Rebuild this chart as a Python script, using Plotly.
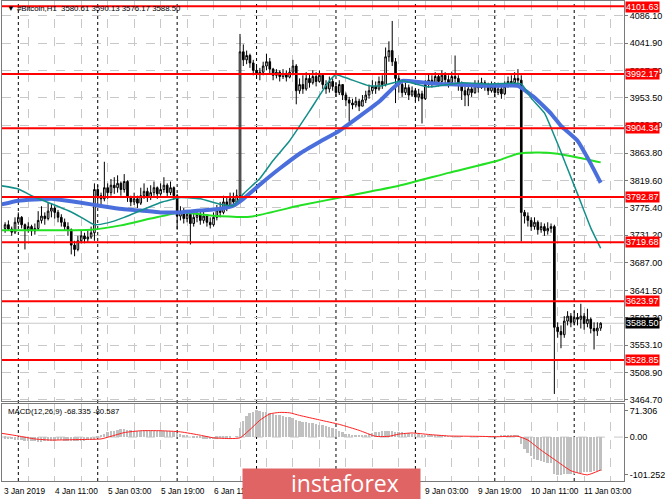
import plotly.graph_objects as go
import pandas as pd

# ---------------- data ----------------
first_open = 3742
close_vals = [
    3748, 3741, 3736, 3752, 3760,
    3748, 3740, 3745, 3738, 3742, 3755, 3762, 3758, 3770, 3775, 3768, 3760, 3752, 3745, 3740, 3715, 3708, 3722, 3730, 3725, 3728, 3735, 3805,
    3795, 3790, 3808, 3800, 3812, 3808, 3815, 3805, 3818, 3792, 3785, 3790, 3783, 3795, 3802, 3792, 3800, 3808, 3798, 3805, 3812, 3800, 3808, 3795,
    3762, 3770, 3758, 3765, 3750, 3760, 3765, 3755, 3762, 3752, 3748, 3760, 3772, 3768, 3785, 3778, 3790, 3785, 3795, 4028,
    4015, 4022, 4010, 3998, 3992, 3995, 4005, 4012, 4000, 3990, 3995, 3988, 3993, 3987, 3995, 4005, 3965, 3975, 3968, 3985, 3978, 3988, 3980, 3990, 3975, 3968, 3980, 3972,
    3962, 3975, 3958, 3950, 3945, 3942, 3948, 3940, 3950, 3958, 3965, 3972, 3968, 3980, 3975, 4020, 4030, 4012, 3985, 3975, 3962, 3970, 3958, 3965,
    3955, 3960, 3952, 3975, 3982, 3978, 3988, 3980, 3990, 3983, 3978, 3988, 3985, 3975, 3965, 3958, 3968, 3962, 3975, 3970, 3978, 3972, 3965, 3972,
    3962, 3968, 3960, 3972, 3980, 3978, 3985, 3982,
    3768, 3762, 3755, 3745, 3752, 3740, 3745, 3738, 3742, 3745, 3582, 3575, 3570, 3592, 3600, 3590, 3598, 3595, 3600, 3588, 3595, 3580, 3576, 3580.61, 3588.50,
]
high_vals = [
    3752, 3755, 3745, 3760, 3768,
    3762, 3750, 3752, 3748, 3750, 3770, 3778, 3768, 3785, 3782, 3778, 3772, 3765, 3758, 3752, 3742, 3722, 3730, 3738, 3735, 3738, 3745, 3815,
    3812, 3800, 3850, 3815, 3822, 3825, 3828, 3818, 3830, 3820, 3795, 3800, 3795, 3808, 3815, 3808, 3812, 3818, 3810, 3815, 3825, 3815, 3818, 3810,
    3798, 3778, 3775, 3772, 3768, 3766, 3772, 3770, 3770, 3765, 3760, 3768, 3780, 3785, 3795, 3792, 3800, 3800, 3805, 4057,
    4040, 4030, 4025, 4015, 4005, 4002, 4012, 4025, 4018, 4002, 4000, 3998, 4000, 3998, 4002, 4015, 4008, 3985, 3990, 3995, 3992, 3998, 3995, 3998, 3993, 3982, 3988, 3985,
    3978, 3982, 3975, 3962, 3955, 3952, 3955, 3952, 3958, 3965, 3975, 3982, 3980, 3988, 3990, 4035, 4045, 4078, 4018, 3990, 3980, 3978, 3975, 3972,
    3968, 3968, 3965, 3982, 3992, 3990, 3995, 3993, 3998, 3995, 3990, 3996, 4022, 3990, 3980, 3972, 3975, 3975, 3982, 3982, 3986, 3982, 3978, 3980,
    3975, 3978, 3972, 3980, 3988, 3990, 3995, 4000,
    3990, 3772, 3768, 3760, 3760, 3755, 3752, 3750, 3752, 3750, 3748, 3590, 3585, 3600, 3608, 3605, 3608, 3605, 3620, 3605, 3612, 3598, 3590, 3590, 3590.13,
]
low_vals = [
    3735, 3738, 3730, 3733, 3748,
    3742, 3708, 3735, 3730, 3732, 3738, 3750, 3748, 3755, 3760, 3758, 3752, 3745, 3738, 3730, 3700, 3697, 3705, 3718, 3718, 3720, 3725, 3722,
    3785, 3778, 3786, 3790, 3795, 3798, 3800, 3795, 3800, 3785, 3778, 3780, 3775, 3780, 3790, 3785, 3788, 3795, 3790, 3795, 3800, 3792, 3796, 3788,
    3740, 3755, 3750, 3752, 3716, 3745, 3752, 3748, 3750, 3745, 3742, 3745, 3755, 3760, 3765, 3770, 3775, 3778, 3780, 3790,
    4005, 4008, 4002, 3990, 3985, 3982, 3990, 3998, 3993, 3982, 3985, 3980, 3984, 3980, 3985, 3990, 3943, 3960, 3960, 3965, 3970, 3975, 3972, 3978, 3968, 3960, 3962, 3965,
    3955, 3958, 3950, 3940, 3915, 3935, 3938, 3932, 3940, 3945, 3952, 3960, 3960, 3965, 3968, 3972, 4012, 4005, 3945, 3962, 3955, 3958, 3950, 3955,
    3948, 3948, 3912, 3950, 3970, 3970, 3975, 3972, 3976, 3975, 3970, 3975, 3978, 3965, 3950, 3940, 3940, 3955, 3960, 3962, 3968, 3965, 3958, 3962,
    3955, 3958, 3952, 3958, 3970, 3972, 3975, 3975,
    3721, 3750, 3745, 3738, 3740, 3732, 3735, 3730, 3732, 3735, 3474, 3565, 3548, 3565, 3585, 3582, 3585, 3585, 3580, 3578, 3582, 3572, 3546, 3568, 3576.17,
]
macd_hist = [
    -5, -6, -6, -7, -8,
    -9, -10, -11, -12, -12, -13, -13, -12,
    -11, -10, -10, -9, -9, -10, -11, -12, -12, -11, -10, -10, -9, -9, -7,
    -2, 3, 8, 12, 15, 17, 19, 20, 20,
    19, 18, 17, 17, 17, 18, 18, 17, 17, 16, 16, 16, 15, 15, 14,
    10, 8, 5, 3, 0, -1, -3, -4, -5, -5, -6, -6, -5, -4, -3, -2, -1, 0, 1,
    25, 42, 55, 63, 68, 71, 70, 68, 66,
    64, 62, 60, 58, 56, 54, 52, 50, 45, 43, 41, 39,
    38, 36, 35, 33, 32, 30, 27, 24,
    20, 16, 12, 9, 7, 5, 4, 3, 3,
    5, 7, 10, 12, 13, 16, 17, 16, 15, 14, 13, 12, 11, 10,
    9, 8, 7, 6, 5, 5, 4, 4, 3, 3, 3, 2, 2, 2, 1, 1, 0, 0, 0, 0, 1, 1, 1, 2, 2, 2, 2, 3, 3, 3, 4, 4,
    3,
    -20, -33, -44, -52, -58, -62, -65, -67, -69, -70,
    -100, -101, -101, -100, -99, -99, -98, -97, -96, -95, -94, -93, -92, -91, -90,
]

# moving averages read at sample points (hours since 4 Jan 2019 00:00)
ma_fast_h = [-5, 0, 4, 10, 15, 19, 23, 27, 32, 43, 49, 55, 61, 65, 68, 73, 77, 82, 88, 94, 96, 100, 106, 110, 116, 124, 134, 142, 152, 155, 159, 161, 163, 169, 173, 176]
ma_fast_v = [3811, 3806, 3795, 3782, 3771, 3760, 3748, 3751, 3760, 3784, 3792, 3790, 3781, 3779, 3798, 3823, 3852, 3884, 3932, 3981, 3991, 3984, 3973, 3973, 3981, 3971, 3978, 3976, 3976, 3953, 3929, 3905, 3879, 3798, 3743, 3710]
ma_mid_h = [-5, 0, 10, 16, 22, 28, 32, 37, 43, 49, 55, 61, 65, 68, 73, 79, 85, 91, 97, 103, 109, 113, 116, 121, 127, 133, 139, 145, 151, 156, 161, 164, 169, 173, 176]
ma_mid_v = [3781, 3787, 3790, 3786, 3781, 3776, 3773, 3771, 3768, 3768, 3771, 3774, 3779, 3790, 3813, 3839, 3863, 3882, 3900, 3923, 3947, 3968, 3981, 3979, 3976, 3975, 3973, 3973, 3973, 3954, 3928, 3908, 3884, 3847, 3816]
ma_slow_h = [-5, 10, 22, 31, 40, 49, 58, 70, 85, 100, 115, 130, 145, 151, 157, 163, 169, 176]
ma_slow_v = [3739, 3739, 3740, 3747, 3758, 3768, 3763, 3761, 3779, 3795, 3811, 3832, 3852, 3863, 3865, 3863, 3857, 3849]

signal_h = [-5, 0, 5, 10, 16, 22, 25, 28, 32, 37, 43, 49, 55, 59, 64, 67, 70, 73, 76, 79, 82, 85, 91, 97, 103, 108, 112, 115, 119, 124, 130, 139, 145, 151, 154, 158, 163, 167, 172, 176]
signal_v = [10, 3, -5, -8, -7, -6, -5, 2, 12, 17, 17, 14, 5, -2, -4, -2, 20, 45, 62, 66, 65, 58, 46, 34, 18, 2, 2, 8, 11, 7, 3, 2, 1, 2, -8, -35, -66, -90, -101, -88]

levels = [4101.63, 3992.17, 3904.34, 3792.87, 3719.68, 3623.97, 3528.85]
price_ticks = [4086.10, 4041.90, 3997.70, 3953.50, 3909.30, 3863.80, 3819.60, 3775.40,
               3731.20, 3687.00, 3641.50, 3597.30, 3553.10, 3508.90, 3464.70]
macd_ticks = [71.306, 0.0, -101.252]
macd_tick_text = ["71.306", "0.00", "-101.252"]
time_labels = ["4 Jan 11:00", "5 Jan 03:00", "5 Jan 19:00", "6 Jan 11:00", "7 Jan 03:00",
               "7 Jan 19:00", "8 Jan 11:00", "9 Jan 03:00", "9 Jan 19:00", "10 Jan 11:00", "11 Jan 03:00"]
time_label_at = ["2019-01-04 11:00", "2019-01-05 03:00", "2019-01-05 19:00", "2019-01-06 11:00",
                 "2019-01-07 03:00", "2019-01-07 19:00", "2019-01-08 11:00", "2019-01-09 03:00",
                 "2019-01-09 19:00", "2019-01-10 11:00", "2019-01-11 03:00"]
last_price = 3588.50
title_text = "\u25bc #Bitcoin,H1  3580.61 3590.13 3576.17 3588.50"
macd_text = "MACD(12,26,9) -68.335 -80.587"

# ---------------- build ----------------
base = pd.Timestamp("2019-01-04 00:00")
bar_times = pd.date_range("2019-01-03 20:00", periods=len(close_vals), freq="h")
opens = [first_open] + close_vals[:-1]
highs = [max(h, o, c) for h, o, c in zip(high_vals, opens, close_vals)]
lows = [min(l, o, c) for l, o, c in zip(low_vals, opens, close_vals)]

def to_t(hs):
    return [base + pd.Timedelta(hours=h) for h in hs]

x_left = pd.Timestamp("2019-01-03 19:04")
x_right = pd.Timestamp("2019-01-11 15:03")
grid_times = pd.date_range("2019-01-03 19:00", "2019-01-11 19:00", freq="8h")
day_lines = pd.date_range("2019-01-04", "2019-01-11", freq="D")

FONT = "Liberation Sans, Arial, sans-serif"
GRID = "#c8c8c8"
FS = 9

fig = go.Figure()
fig.add_trace(go.Candlestick(
    x=bar_times, open=opens, high=highs, low=lows, close=close_vals,
    xaxis="x2", yaxis="y",
    increasing=dict(line=dict(color="black", width=1), fillcolor="white"),
    decreasing=dict(line=dict(color="black", width=1), fillcolor="black"),
    whiskerwidth=0, hoverinfo="skip"))
fig.add_trace(go.Scatter(x=to_t(ma_slow_h), y=ma_slow_v, mode="lines", xaxis="x2", yaxis="y",
                         line=dict(color="#22e022", width=2, shape="spline", smoothing=0.5)))
fig.add_trace(go.Scatter(x=to_t(ma_mid_h), y=ma_mid_v, mode="lines", xaxis="x2", yaxis="y",
                         line=dict(color="#4a6fdc", width=4, shape="spline", smoothing=0.4)))
fig.add_trace(go.Scatter(x=to_t(ma_fast_h), y=ma_fast_v, mode="lines", xaxis="x2", yaxis="y",
                         line=dict(color="#138f8a", width=1.5, shape="spline", smoothing=0.4)))

fig.add_trace(go.Bar(x=bar_times, y=macd_hist, xaxis="x", yaxis="y2",
                     marker=dict(color="#c0c0c0", line=dict(width=0)), width=2100000))
fig.add_trace(go.Scatter(x=to_t(signal_h), y=signal_v, mode="lines", xaxis="x", yaxis="y2",
                         line=dict(color="#ff2020", width=1, shape="spline", smoothing=0.5)))

shapes = []
for lv in levels:
    shapes.append(dict(type="line", xref="paper", x0=0, x1=1, yref="y", y0=lv, y1=lv,
                       line=dict(color="#ff0000", width=2), layer="above"))
shapes.append(dict(type="line", xref="paper", x0=0, x1=1, yref="y", y0=last_price, y1=last_price,
                   line=dict(color="#c8c8c8", width=1), layer="below"))
shapes.append(dict(type="line", xref="paper", x0=0, x1=1, yref="y2", y0=0, y1=0,
                   line=dict(color=GRID, width=1, dash="dash"), layer="below"))
for d in day_lines:
    shapes.append(dict(type="line", xref="x", x0=d, x1=d, yref="paper", y0=0, y1=1,
                       line=dict(color="black", width=1, dash="dot"), layer="below"))

ann = []
for lv in levels:
    ann.append(dict(xref="paper", x=1, xanchor="left", xshift=1, yref="y", y=lv, yanchor="middle",
                    yshift=(-1 if lv == max(levels) else 0),
                    text=f"{lv:.2f}", showarrow=False, bgcolor="#ff0000", borderpad=0,
                    font=dict(family=FONT, size=FS, color="white")))
ann.append(dict(xref="paper", x=1, xanchor="left", xshift=1, yref="y", y=last_price, yanchor="middle",
                text=f"{last_price:.2f}", showarrow=False, bgcolor="black", borderpad=0,
                font=dict(family=FONT, size=FS, color="white")))
ann.append(dict(xref="paper", x=0, xanchor="left", xshift=3, yref="paper", y=1, yanchor="top", yshift=-1,
                text=title_text, showarrow=False, font=dict(family=FONT, size=7.8, color="black")))
ann.append(dict(xref="paper", x=0, xanchor="left", xshift=4, yref="paper", y=0.1601, yanchor="top", yshift=-1,
                text=macd_text, showarrow=False, font=dict(family=FONT, size=7.8, color="black")))
ann.append(dict(xref="paper", x=0, xanchor="left", xshift=0, yref="paper", y=0, yanchor="top", yshift=-3,
                text="3 Jan 2019", showarrow=False, font=dict(family=FONT, size=8.3, color="black")))
for lab, t in zip(time_labels, time_label_at):
    ann.append(dict(xref="x", x=pd.Timestamp(t), xanchor="left", xshift=-2, yref="paper", y=0,
                    yanchor="top", yshift=-3, text=lab, showarrow=False,
                    font=dict(family=FONT, size=8.3, color="black")))
# watermark
ann.append(dict(xref="paper", x=0.5304, xanchor="center", yref="paper", y=0.027, yanchor="top",
                text=" ", width=177, height=31, bgcolor="#e06464", borderpad=0, showarrow=False))
ann.append(dict(xref="paper", x=0.4608, xanchor="left", yref="paper", y=-0.004, yanchor="middle",
                text="instaforex", showarrow=False,
                font=dict(family="Liberation Sans Narrow, Open Sans, sans-serif", size=23, color="white")))

axis_common = dict(showgrid=True, gridcolor=GRID, griddash="dash", gridwidth=1,
                   showline=True, linecolor="#7a7a7a", mirror=True, zeroline=False)

fig.update_layout(
    width=665, height=499,
    margin=dict(l=2, r=38, t=0, b=18),
    paper_bgcolor="white", plot_bgcolor="white",
    showlegend=False, bargap=0,
    font=dict(family=FONT, size=FS, color="black"),
    xaxis=dict(domain=[0, 1], anchor="y2", type="date", range=[x_left, x_right],
               tickmode="array", tickvals=list(grid_times), showticklabels=False, ticks="",
               **axis_common),
    xaxis2=dict(domain=[0, 1], anchor="y", type="date", matches="x", range=[x_left, x_right],
                tickmode="array", tickvals=list(grid_times), showticklabels=False, ticks="",
                rangeslider=dict(visible=False), **axis_common),
    yaxis=dict(domain=[0.1663, 1], range=[3462.3, 4110.3], side="right",
               tickmode="array", tickvals=price_ticks, ticktext=[f"{v:.2f}" for v in price_ticks],
               ticks="outside", ticklen=3, tickcolor="#7a7a7a", tickfont=dict(size=FS),
               **axis_common),
    yaxis2=dict(domain=[0, 0.1601], range=[-117.5, 88.1], side="right",
                tickmode="array", tickvals=macd_ticks, ticktext=macd_tick_text,
                ticks="outside", ticklen=3, tickcolor="#7a7a7a", tickfont=dict(size=FS),
                showgrid=False, showline=True, linecolor="#7a7a7a", mirror=True, zeroline=False),
    shapes=shapes, annotations=ann,
)

fig.write_html("out.html", config={"displayModeBar": False},
               post_script="document.body.style.margin='0px';document.body.style.overflow='hidden';")
